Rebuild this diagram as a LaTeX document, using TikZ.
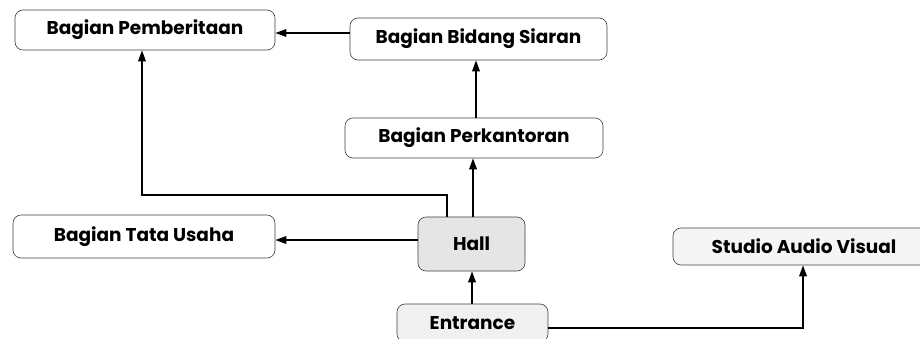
\documentclass[tikz,border=0pt]{standalone}
\usepackage{fontspec}
\usetikzlibrary{arrows.meta}
\newfontfamily\boxfont{Poppins}
\begin{document}
\begin{tikzpicture}[x=1pt,y=-1pt,
  box/.style={draw=black!75, line width=0.6pt, rounded corners=8pt,
    inner sep=0pt, font=\boxfont\bfseries\fontsize{18.5}{22}\selectfont},
  arr/.style={line width=1.7pt, -{Triangle[length=11pt,width=7.5pt]}}]
\useasboundingbox (0,0) rectangle (920,338);
\clip (0,0) rectangle (920,338);
\fill[white] (0,0) rectangle (920,338);

% rooms
\node[box, minimum width=260, minimum height=40] (pem) at (145,30) {Bagian Pemberitaan};
\node[box, minimum width=257, minimum height=42] (bid) at (478.5,39) {Bagian Bidang Siaran};
\node[box, minimum width=258, minimum height=40] (per) at (474,138) {Bagian Perkantoran};
\node[box, minimum width=262, minimum height=43] (tata) at (144,236.5) {Bagian Tata Usaha};
\node[box, fill=black!10, minimum width=107, minimum height=54] (hall) at (471.5,244) {Hall};
\node[box, fill=black!6, minimum width=151, minimum height=38] (ent) at (472.5,323) {Entrance};
\node[box, fill=black!4, minimum width=262, minimum height=37] (stu) at (804,246.5) {Studio Audio Visual\hspace{28pt}};

% helper coordinates for the routed connectors
\coordinate (ya) at (0,33);
\coordinate (yb) at (0,240);
\coordinate (yc) at (0,328);
\coordinate (turn) at (447,195);
\coordinate (xp) at (142,0);
\coordinate (xs) at (803,0);
\coordinate (xh) at (447,0);

\draw[arr] (bid.west |- ya) -- (pem.east |- ya);
\draw[arr] (per.north -| 476,0) -- (bid.south -| 476,0);
\draw[arr] (hall.north -| 473,0) -- (per.south -| 473,0);
\draw[arr] (hall.north -| xh) |- (turn) -| (pem.south -| xp);
\draw[arr] (hall.west |- yb) -- (tata.east |- yb);
\draw[arr] (ent.north -| 472,0) -- (hall.south -| 472,0);
\draw[arr] (ent.east |- yc) -| (stu.south -| xs);
\end{tikzpicture}
\end{document}
